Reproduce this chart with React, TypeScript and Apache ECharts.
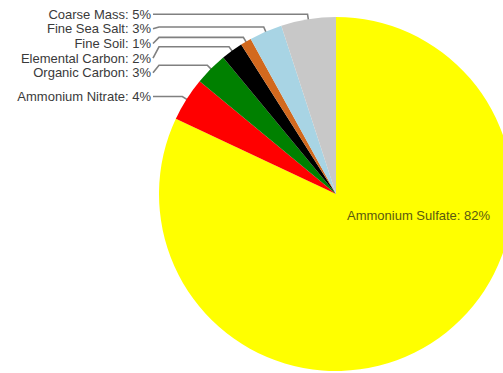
import React, { useEffect, useRef } from "react";
import * as echarts from "echarts";

// Clockwise from 12 o'clock
const categories = [
  "Ammonium Sulfate",
  "Ammonium Nitrate",
  "Organic Carbon",
  "Elemental Carbon",
  "Fine Soil",
  "Fine Sea Salt",
  "Coarse Mass",
];
const values = [82, 4, 3, 2, 1, 3, 5];
const colors = ["#FFFF00", "#FF0000", "#008000", "#000000", "#D2691E", "#A8D4E4", "#C8C8C8"];

const W = 503;
const H = 373;
const CX = 336;
const CY = 194;
const R = 177;
const FONT = "'Liberation Sans', Arial, sans-serif";
const LABEL_RIGHT = 151;
const KNEE_X = 159;
const ROW = 14.6;

function computeLayouts() {
  const total = values.reduce((a, b) => a + b, 0);
  let acc = 0;
  const info = values.map((v, i) => {
    const mid = ((acc + v / 2) / total) * 2 * Math.PI;
    acc += v;
    const s = Math.sin(mid);
    const c = Math.cos(mid);
    return {
      i,
      start: [CX + (R - 5) * s, CY - (R - 5) * c],
      knee: [CX + (R + 5) * s, CY - (R + 5) * c],
    };
  });
  const layouts: any[] = [];
  // inside label for the big slice
  layouts[0] = { x: CX + 11, y: CY + 21, align: "left", verticalAlign: "middle" };
  const outs = info.slice(1).sort((a, b) => a.knee[1] - b.knee[1]);
  let prev = -Infinity;
  outs.forEach((o) => {
    const lineY = o.knee[1];
    const ly = Math.max(lineY, prev + ROW);
    prev = ly;
    layouts[o.i] = {
      x: LABEL_RIGHT,
      y: ly,
      align: "right",
      verticalAlign: "middle",
      labelLinePoints: [
        o.start,
        o.knee,
        [KNEE_X, lineY],
        [LABEL_RIGHT + 2, ly],
      ],
    };
  });
  return layouts;
}

export default function App() {
  const ref = useRef<HTMLDivElement>(null);
  useEffect(() => {
    if (!ref.current) return;
    const chart = echarts.init(ref.current, undefined, { renderer: "svg" });
    const layouts = computeLayouts();
    chart.setOption({
      animation: false,
      backgroundColor: "#ffffff",
      series: [
        {
          type: "pie",
          center: [CX, CY],
          radius: [0, R],
          startAngle: 90,
          clockwise: true,
          avoidLabelOverlap: false,
          itemStyle: { borderWidth: 0 },
          label: {
            show: true,
            position: "outside",
            formatter: "{b}: {c}%",
            fontFamily: FONT,
            fontSize: 13,
            color: "#3a3a3a",
          },
          labelLine: {
            show: true,
            length: 5,
            length2: 10,
            lineStyle: { color: "#808080", width: 1.6 },
          },
          labelLayout: (p: any) => layouts[p.dataIndex],
          data: categories.map((name, i) => ({
            name,
            value: values[i],
            itemStyle: { color: colors[i] },
            ...(i === 0
              ? {
                  label: { position: "inside", color: "#5a5a10" },
                  labelLine: { show: false },
                }
              : {}),
          })),
        },
      ],
    });
    return () => chart.dispose();
  }, []);
  return (
    <div
      ref={ref}
      style={{ position: "fixed", left: 0, top: 0, width: W, height: H }}
    />
  );
}
